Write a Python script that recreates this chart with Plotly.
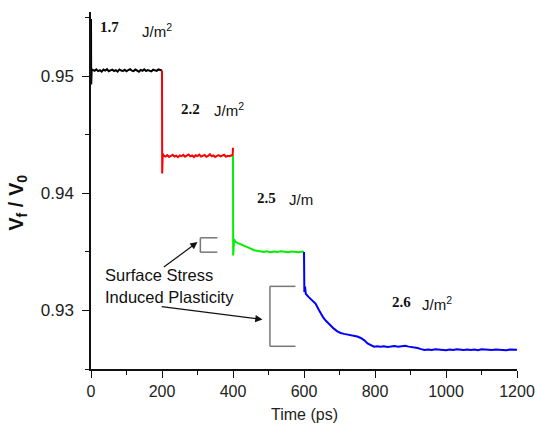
import plotly.graph_objects as go

# ---- data ----
black_t = [0, 0.5, 2, 5, 10, 15, 20, 25, 30, 35, 40, 45, 50, 55, 60, 65, 70, 75, 80, 85, 90, 95, 100,
           105, 110, 115, 120, 125, 130, 135, 140, 145, 150, 155, 160, 165, 170, 175, 180, 185, 190, 195, 200]
black_v = [0.9549, 0.9493, 0.9506,
           0.95055, 0.95048, 0.95060, 0.95045, 0.95052, 0.95040, 0.95058, 0.95050, 0.95062, 0.95044,
           0.95051, 0.95057, 0.95046, 0.95053, 0.95041, 0.95059, 0.95050, 0.95047, 0.95056, 0.95043,
           0.95054, 0.95061, 0.95049, 0.95045, 0.95058, 0.95052, 0.95040, 0.95055, 0.95048, 0.95060,
           0.95046, 0.95053, 0.95050, 0.95042, 0.95057, 0.95051, 0.95047, 0.95059, 0.95054,
           0.9505]

red_t = [200, 200.5, 202, 205, 210, 215, 220, 225, 230, 235, 240, 245, 250, 255, 260, 265, 270, 275, 280,
         285, 290, 295, 300, 305, 310, 315, 320, 325, 330, 335, 340, 345, 350, 355, 360, 365, 370, 375, 380,
         385, 390, 395, 399, 400]
red_v = [0.9505, 0.9417, 0.9434,
         0.94322, 0.94315, 0.94327, 0.94312, 0.94320, 0.94330, 0.94316, 0.94323, 0.94310, 0.94325,
         0.94318, 0.94329, 0.94314, 0.94321, 0.94333, 0.94317, 0.94324, 0.94311, 0.94326, 0.94319,
         0.94331, 0.94315, 0.94322, 0.94328, 0.94313, 0.94320, 0.94335, 0.94318, 0.94325, 0.94312,
         0.94321, 0.94327, 0.94316, 0.94323, 0.94330, 0.94314, 0.94322, 0.94318, 0.94326,
         0.9432, 0.9439]

green_t = [400, 400.5, 403, 407, 414, 421, 430, 440, 450, 459, 470, 480, 487, 495, 505, 515, 525, 535,
           545, 555, 565, 575, 585, 595, 600]
green_v = [0.9432, 0.9347, 0.9361, 0.93586, 0.93575, 0.93567, 0.93555, 0.93543, 0.93528, 0.93515,
           0.93508, 0.93502, 0.93500, 0.93505, 0.93498, 0.93503, 0.93499, 0.93506, 0.93500, 0.93497,
           0.93504, 0.93501, 0.93498, 0.93503, 0.93500]

blue_t = [600, 601, 603, 605, 612, 619, 626, 633, 640, 647, 654, 661, 668, 675, 684, 694, 703, 713, 722,
          731, 741, 750, 760, 770, 779, 788, 797, 806, 815, 825, 835, 845, 855, 865, 875, 885, 895, 905,
          913, 920, 930, 939, 950, 960, 970, 980, 990, 1000, 1010, 1020, 1030, 1040, 1050, 1060, 1070,
          1080, 1090, 1100, 1110, 1120, 1130, 1140, 1150, 1160, 1170, 1180, 1190, 1200]
blue_v = [0.9350, 0.93157, 0.93205, 0.93143, 0.93118, 0.93100, 0.93082, 0.93057, 0.93015, 0.92971,
          0.92940, 0.92914, 0.92892, 0.92871, 0.92845, 0.92822, 0.92808, 0.92800, 0.92795, 0.92790,
          0.92785, 0.92778, 0.92765, 0.92745, 0.92719, 0.92703, 0.92691, 0.92695, 0.92690, 0.92694,
          0.92689, 0.92692, 0.92696, 0.92690, 0.92693, 0.92698, 0.92691, 0.92688, 0.92684, 0.92680,
          0.92670, 0.92663, 0.92667, 0.92662, 0.92668, 0.92664, 0.92666, 0.92661, 0.92667, 0.92663,
          0.92669, 0.92664, 0.92662, 0.92667, 0.92663, 0.92666, 0.92661, 0.92668, 0.92664, 0.92666,
          0.92662, 0.92667, 0.92663, 0.92665, 0.92661, 0.92667, 0.92664, 0.92665]

x_ticks = [0, 200, 400, 600, 800, 1000, 1200]
y_ticks = [0.93, 0.94, 0.95]
y_tick_labels = ["0.93", "0.94", "0.95"]

energy_labels = ["1.7", "2.2", "2.5", "2.6"]
unit_labels = ["J/m<sup>2</sup>", "J/m<sup>2</sup>", "J/m", "J/m<sup>2</sup>"]
energy_pos = [(21, 0.95421), (249, 0.94725), (463, 0.93961), (843, 0.93071)]
unit_pos = [(139, 0.95390), (342, 0.94715), (553, 0.93944), (928, 0.93060)]

# ---- figure ----
fig = go.Figure()
for t, v, c in [(black_t, black_v, "#000000"), (red_t, red_v, "#ff0000"),
                (green_t, green_v, "#00f000"), (blue_t, blue_v, "#0000ff")]:
    fig.add_trace(go.Scatter(x=t, y=v, mode="lines", line=dict(color=c, width=2),
                             showlegend=False, hoverinfo="skip"))

annots = []
for (x, y), s in zip(energy_pos, energy_labels):
    annots.append(dict(x=x, y=y, xref="x", yref="y", text="<b>" + s + "</b>", showarrow=False,
                       xanchor="left", yanchor="middle",
                       font=dict(family="Liberation Serif", size=15, color="#111")))
for (x, y), s in zip(unit_pos, unit_labels):
    annots.append(dict(x=x, y=y, xref="x", yref="y", text=s, showarrow=False,
                       xanchor="left", yanchor="middle",
                       font=dict(family="Liberation Sans", size=15, color="#111")))

annots.append(dict(x=35, y=0.93300, xref="x", yref="y", text="Surface Stress", showarrow=False,
                   xanchor="left", yanchor="middle",
                   font=dict(family="Liberation Sans", size=16.5, color="#111")))
annots.append(dict(x=35, y=0.93114, xref="x", yref="y", text="Induced Plasticity", showarrow=False,
                   xanchor="left", yanchor="middle",
                   font=dict(family="Liberation Sans", size=16.5, color="#111")))

# arrows
for (tx, ty, hx, hy) in [(201, 0.93361, 300, 0.93584), (195, 0.93034, 483, 0.92923)]:
    annots.append(dict(x=hx, y=hy, ax=tx, ay=ty, xref="x", yref="y", axref="x", ayref="y",
                       text="", showarrow=True, arrowhead=2, arrowsize=1.2, arrowwidth=1.2,
                       arrowcolor="#111"))

# axis titles
annots.append(dict(x=-0.172, y=0.465, xref="paper", yref="paper",
                   text="<b>V<sub>f</sub> / V<sub>0</sub></b>", textangle=-90, showarrow=False,
                   xanchor="center", yanchor="middle",
                   font=dict(family="Liberation Sans", size=20, color="#111")))
annots.append(dict(x=0.5, y=-0.128, xref="paper", yref="paper", text="Time (ps)", showarrow=False,
                   xanchor="center", yanchor="middle",
                   font=dict(family="Liberation Sans", size=16, color="#222")))

# brackets
shapes = []
for (x0, x1, y0, y1) in [(308, 356, 0.93498, 0.93621), (504, 576, 0.92694, 0.93206)]:
    for seg in [(x0, y0, x0, y1), (x0, y0, x1, y0), (x0, y1, x1, y1)]:
        shapes.append(dict(type="line", xref="x", yref="y", x0=seg[0], y0=seg[1], x1=seg[2], y1=seg[3],
                           line=dict(color="#777777", width=1.5)))

axis_font = dict(family="Liberation Sans", size=16, color="#222")
fig.update_layout(
    width=537, height=425,
    margin=dict(l=91, r=20, t=12, b=56),
    paper_bgcolor="white", plot_bgcolor="white",
    annotations=annots, shapes=shapes,
    xaxis=dict(range=[0, 1200], tickvals=x_ticks, ticks="outside", ticklen=7, tickwidth=1.3,
               tickcolor="#111", showline=True, linecolor="#111", linewidth=1.5,
               showgrid=False, zeroline=False, tickfont=axis_font, automargin=False,
               minor=dict(dtick=100, tick0=0, ticks="outside", ticklen=4, tickcolor="#111", tickwidth=1.2)),
    yaxis=dict(range=[0.925, 0.9555], tickvals=y_ticks, ticktext=y_tick_labels, ticks="outside",
               ticklen=7, tickwidth=1.3, tickcolor="#111", showline=True, linecolor="#111",
               linewidth=1.5, showgrid=False, zeroline=False, automargin=False,
               tickfont=dict(family="Liberation Sans", size=17, color="#222"), ticklabelstandoff=5,
               minor=dict(dtick=0.005, tick0=0.925, ticks="outside", ticklen=4, tickcolor="#111",
                          tickwidth=1.2)),
)

fig.write_html("out.html", post_script="document.body.style.margin='0px';",
               config={"displayModeBar": False})
